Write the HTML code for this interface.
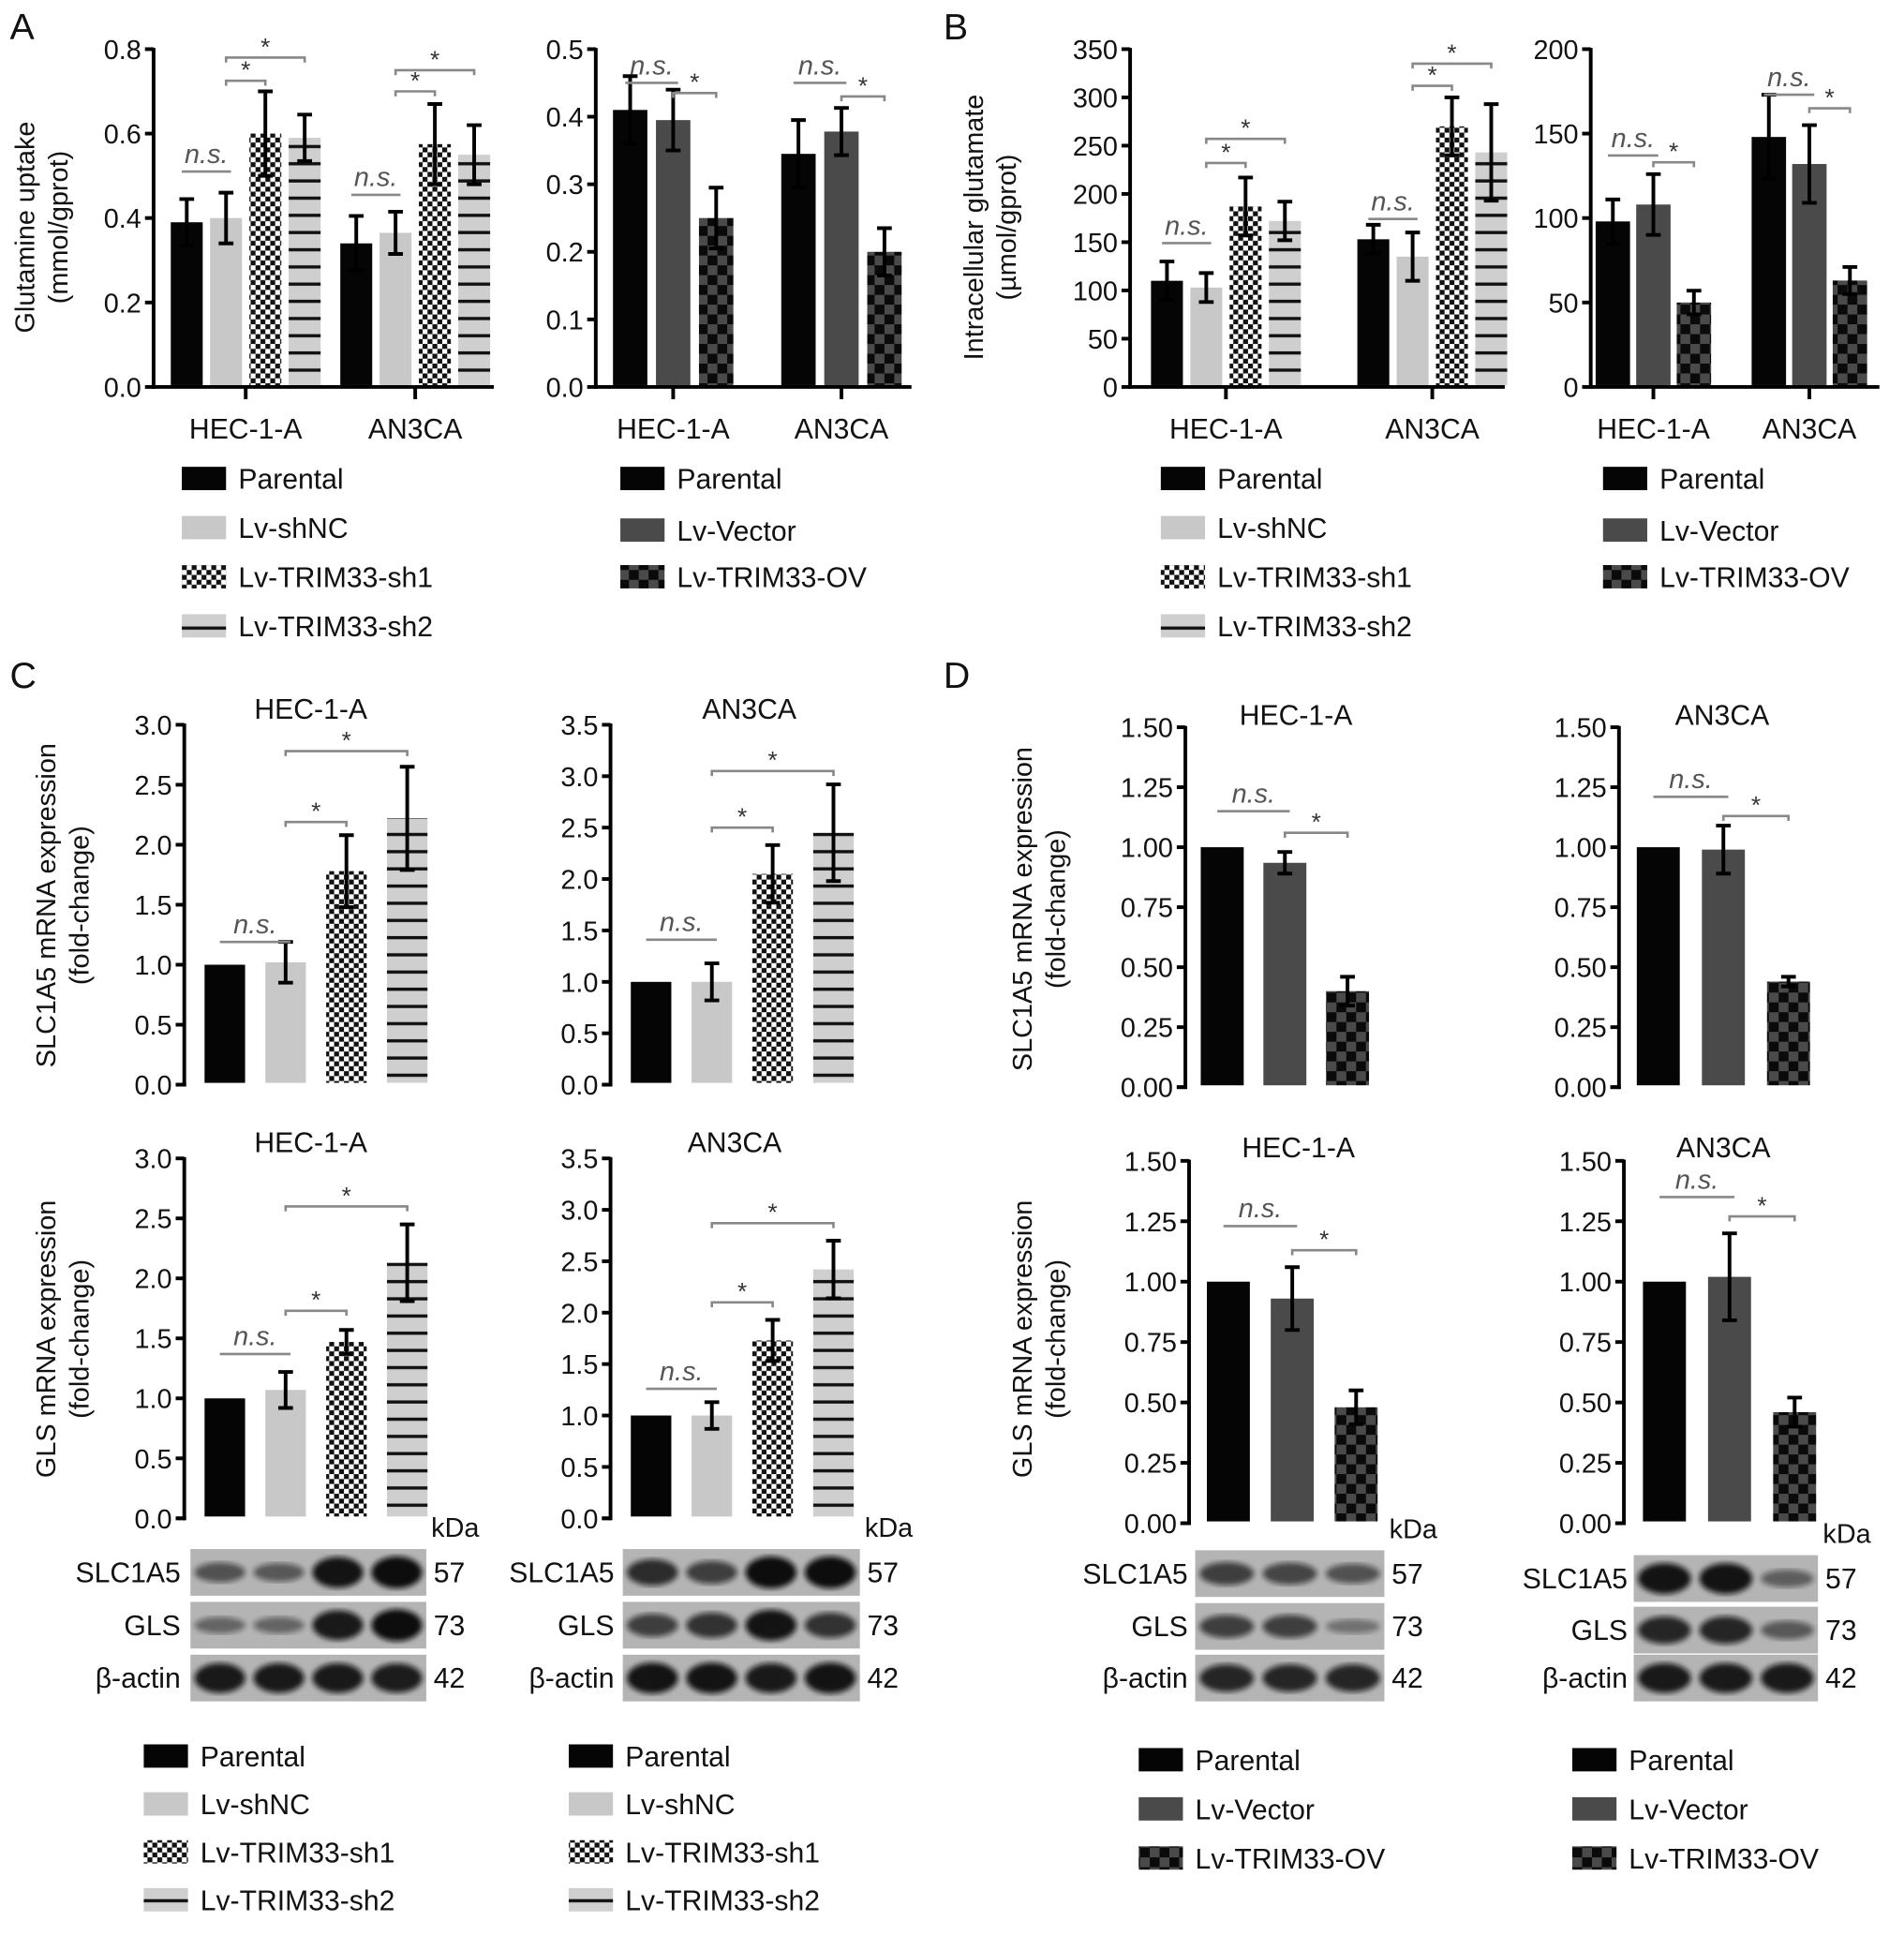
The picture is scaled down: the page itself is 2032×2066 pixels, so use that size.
<!DOCTYPE html>
<html><head><meta charset="utf-8">
<style>
html,body{margin:0;padding:0;background:#fff;}
svg{display:block;font-family:"Liberation Sans",sans-serif;}
</style></head>
<body>
<svg id="fig" xmlns="http://www.w3.org/2000/svg" width="2032" height="2066" viewBox="0 0 1550 1576">
<defs>
<pattern id="chk" width="8" height="8" patternUnits="userSpaceOnUse"><rect width="8" height="8" fill="#fff"/><rect width="4" height="4" fill="#111"/><rect x="4" y="4" width="4" height="4" fill="#111"/></pattern>
<pattern id="hl" width="12" height="14" patternUnits="userSpaceOnUse"><rect width="12" height="14" fill="#cfcfcf"/><rect y="6" width="12" height="2.6" fill="#111"/></pattern>
<pattern id="ov" width="16" height="16" patternUnits="userSpaceOnUse"><rect width="16" height="16" fill="#4a4a4a"/><rect width="8" height="8" fill="#0a0a0a"/><rect x="8" y="8" width="8" height="8" fill="#0a0a0a"/></pattern>
<filter id="blur"><feGaussianBlur stdDeviation="2.2"/></filter>
</defs>
</svg>
<script>
// ---------- DATA ----------
const aL_means=[0.39,0.40,0.60,0.59,0.34,0.365,0.575,0.55];
const aL_errs=[0.055,0.06,0.10,0.055,0.065,0.05,0.095,0.07];
const aR_means=[0.41,0.395,0.25,0.345,0.378,0.20];
const aR_errs=[0.05,0.045,0.045,0.05,0.035,0.035];
const bL_means=[110,103,187,172,153,135,270,243];
const bL_errs=[20,15,30,20,15,25,30,50];
const bR_means=[98,108,50,148,132,63];
const bR_errs=[13,18,7,25,23,8];
const c1_means=[1.0,1.02,1.78,2.22];const c1_errs=[0,0.17,0.3,0.43];
const c2_means=[1.0,1.0,2.05,2.45];const c2_errs=[0,0.18,0.28,0.47];
const c3_means=[1.0,1.07,1.47,2.13];const c3_errs=[0,0.15,0.1,0.32];
const c4_means=[1.0,1.0,1.73,2.42];const c4_errs=[0,0.13,0.2,0.28];
const d1_means=[1.0,0.935,0.40];const d1_errs=[0,0.045,0.06];
const d2_means=[1.0,0.99,0.44];const d2_errs=[0,0.1,0.02];
const d3_means=[1.0,0.93,0.48];const d3_errs=[0,0.13,0.07];
const d4_means=[1.0,1.02,0.46];const d4_errs=[0,0.18,0.06];
const groupCats=["HEC-1-A","AN3CA"];
const shLabels=["Parental","Lv-shNC","Lv-TRIM33-sh1","Lv-TRIM33-sh2"];
const ovLabels=["Parental","Lv-Vector","Lv-TRIM33-OV"];
// significance: [barA, barB, yValue, label]
const aL_sig=[[0,1,0.51,"n.s."],[1,2,0.725,"*"],[1,3,0.78,"*"],[4,5,0.455,"n.s."],[5,6,0.70,"*"],[5,7,0.75,"*"]];
const aR_sig=[[0,1,0.45,"n.s."],[1,2,0.435,"*"],[3,4,0.45,"n.s."],[4,5,0.43,"*"]];
const bL_sig=[[0,1,149,"n.s."],[1,2,232,"*"],[1,3,257,"*"],[4,5,174,"n.s."],[5,6,312,"*"],[5,7,335,"*"]];
const bR_sig=[[0,1,137,"n.s."],[1,2,133,"*"],[3,4,173,"n.s."],[4,5,165,"*"]];
const c1_sig=[[0,1,1.19,"n.s."],[1,2,2.19,"*"],[1,3,2.78,"*"]];
const c2_sig=[[0,1,1.41,"n.s."],[1,2,2.5,"*"],[1,3,3.05,"*"]];
const c3_sig=[[0,1,1.37,"n.s."],[1,2,1.73,"*"],[1,3,2.6,"*"]];
const c4_sig=[[0,1,1.26,"n.s."],[1,2,2.1,"*"],[1,3,2.87,"*"]];
const d1_sig=[[0,1,1.15,"n.s."],[1,2,1.06,"*"]];
const d2_sig=[[0,1,1.21,"n.s."],[1,2,1.13,"*"]];
const d3_sig=[[0,1,1.23,"n.s."],[1,2,1.13,"*"]];
const d4_sig=[[0,1,1.35,"n.s."],[1,2,1.27,"*"]];
// blot intensities (lanes)
const bc1=[[0.45,0.4,0.95,1.0],[0.3,0.3,0.9,1.0],[0.9,0.9,0.9,0.88]];
const bc2=[[0.75,0.6,1.0,1.0],[0.6,0.7,0.95,0.7],[0.95,0.95,0.9,0.95]];
const bd1=[[0.6,0.55,0.45],[0.6,0.6,0.2],[0.8,0.8,0.8]];
const bd2=[[0.95,0.95,0.35],[0.8,0.8,0.4],[0.9,0.9,0.9]];

// ---------- DRAW ----------
const NS="http://www.w3.org/2000/svg";
const svg=document.getElementById("fig");
function mk(tag,attrs,parent){const e=document.createElementNS(NS,tag);for(const k in attrs)e.setAttribute(k,attrs[k]);(parent||svg).appendChild(e);return e;}
function txt(s,x,y,size,parent,anchor,extra){const t=mk("text",Object.assign({x:x,y:y,"font-size":size,"text-anchor":anchor||"start",fill:"#111"},extra||{}),parent);t.textContent=s;return t;}

const shFills=["#050505","#c8c8c8","url(#chk)","url(#hl)"];
const ovFills=["#050505","#4a4a4a","url(#ov)"];

function chart(cfg){
  const g=mk("g",{});
  
  
  const yS=v=>cfg.yBot-v/cfg.ymax*(cfg.yBot-cfg.yTop);
  const cx=i=>cfg.first+i*cfg.step+Math.floor(i/cfg.nPer)*cfg.gap;
  const ax=mk("line",{x1:cfg.x0,y1:cfg.yTop-1,x2:cfg.x0,y2:cfg.yBot+1.5,stroke:"#000","stroke-width":3},g);
  
  
  for(let v=0;v<=cfg.ymax+1e-9;v+=cfg.tstep){
    const y=yS(v);
    mk("line",{x1:cfg.x0-7,y1:y,x2:cfg.x0,y2:y,stroke:"#000","stroke-width":3},g);
    const t=txt(v.toFixed(cfg.dec),cfg.x0-10,y+8,22,g,"end");
    
    
  }
  if(cfg.xaxis){
    const xa=mk("line",{x1:cfg.x0,y1:cfg.yBot,x2:cfg.x1,y2:cfg.yBot,stroke:"#000","stroke-width":3},g);
    
    
    const ng=cfg.means.length/cfg.nPer;
    for(let k=0;k<ng;k++){
      const mx=(cx(k*cfg.nPer)+cx(k*cfg.nPer+cfg.nPer-1))/2;
      mk("line",{x1:mx,y1:cfg.yBot,x2:mx,y2:cfg.yBot+10,stroke:"#000","stroke-width":3},g);
      const t=txt(groupCats[k],mx,cfg.yBot+42,23,g,"middle");
      
      
    }
  } else {
    mk("line",{x1:cfg.x0-7,y1:cfg.yBot,x2:cfg.x0+1.5,y2:cfg.yBot,stroke:"#000","stroke-width":3},g);
  }
  cfg.means.forEach((m,i)=>{
    const x=cx(i),y=yS(m);
    const r=mk("rect",{x:x-cfg.bw/2,y:y,width:cfg.bw,height:cfg.yBot-y-1.5,fill:cfg.fills[i%cfg.nPer]},g);
    
    
    const e=cfg.errs[i];
    if(e>0){
      const eb=mk("path",{d:`M${x},${yS(m-e)}V${yS(m+e)}M${x-6},${yS(m+e)}H${x+6}M${x-6},${yS(m-e)}H${x+6}`,stroke:"#000","stroke-width":3,fill:"none"},g);
      
      
    }
  });
  cfg.sig.forEach(s=>{
    const y=yS(s[2]);const ns=s[3]==="n.s.";
    const xa=cx(s[0])-(ns?4:0),xb=cx(s[1])+(ns?4:0);
    const l=mk("path",{d:ns?`M${xa},${y}H${xb}`:`M${xa},${y+4}V${y}H${xb}V${y+4}`,stroke:"#888","stroke-width":2,fill:"none"},g);
    
    
    const t=txt(s[3],(xa+xb)/2,ns?y-7:y-2,ns?22:20,g,"middle",{fill:ns?"#555":"#333","font-style":ns?"italic":"normal"});
    
    
  });
  if(cfg.title){
    const t=txt(cfg.title,cfg.tx,cfg.ty,23,g,"middle");
    
    
  }
  if(cfg.yl1){
    const t1=txt(cfg.yl1,0,0,22,g,"middle",{transform:`translate(${cfg.ylx},${cfg.ylcy}) rotate(-90)`});
    
    
    const t2=txt(cfg.yl2,0,0,22,g,"middle",{transform:`translate(${cfg.ylx+27},${cfg.ylcy}) rotate(-90)`});
    
    
  }
}

function legend(x,ys,labels,fills,name){
  const g=mk("g",{});
  
  
  labels.forEach((lb,i)=>{
    const r=mk("rect",{x:x,y:ys[i]-10,width:36,height:19,fill:fills[i]},g);
    
    
    const t=txt(lb,x+46,ys[i]+8,23,g);
    
    
  });
}

function blot(x0,x1,rowsY,labels,kda,ints,labelX,name){
  const g=mk("g",{});
  
  
  const k=txt("kDa",x1+4,rowsY[0]-10,22,g);
  
  
  rowsY.forEach((y,r)=>{
    const h=38;
    const bg=mk("rect",{x:x0,y:y,width:x1-x0,height:h,fill:"#b4b4b4"},g);
    
    
    const n=ints[r].length,lw=(x1-x0)/n;
    ints[r].forEach((v,i)=>{
      const b=mk("ellipse",{cx:x0+lw*(i+0.5),cy:y+h/2,rx:lw*0.43,ry:4+v*9,fill:"#111",opacity:0.25+v*0.75,filter:"url(#blur)"},g);
      
      
    });
    const t=txt(labels[r],labelX,y+h/2+8,23,g,"end");
    
    
    const m=txt(kda[r],x1+6,y+h/2+8,23,g);
    
    
  });
}

function letter(s,x,y){const t=txt(s,x,y,30,svg);}
letter("A",8,32);letter("B",768,32);letter("C",8,560);letter("D",768,560);

// Panel A
chart({name:"chart-a-knockdown",x0:125,x1:402,yTop:40,yBot:315,ymax:0.8,tstep:0.2,dec:1,means:aL_means,errs:aL_errs,fills:shFills,nPer:4,first:152,step:32,gap:10,bw:26,xaxis:true,sig:aL_sig,yl1:"Glutamine uptake",yl2:"(mmol/gprot)",ylx:28,ylcy:185});
chart({name:"chart-a-overexpression",x0:485,x1:742,yTop:40,yBot:315,ymax:0.5,tstep:0.1,dec:1,means:aR_means,errs:aR_errs,fills:ovFills,nPer:3,first:513,step:35,gap:32,bw:28,xaxis:true,sig:aR_sig});
legend(148,[390,430,470,510],shLabels,shFills,"legend-a-knockdown");
legend(505,[390,432,470],ovLabels,ovFills,"legend-a-overexpression");
// Panel B
chart({name:"chart-b-knockdown",x0:920,x1:1225,yTop:40,yBot:315,ymax:350,tstep:50,dec:0,means:bL_means,errs:bL_errs,fills:shFills,nPer:4,first:950,step:32,gap:40,bw:26,xaxis:true,sig:bL_sig,yl1:"Intracellular glutamate",yl2:"(µmol/gprot)",ylx:800,ylcy:185});
chart({name:"chart-b-overexpression",x0:1295,x1:1530,yTop:40,yBot:315,ymax:200,tstep:50,dec:0,means:bR_means,errs:bR_errs,fills:ovFills,nPer:3,first:1313,step:33,gap:28,bw:28,xaxis:true,sig:bR_sig});
legend(945,[390,430,470,510],shLabels,shFills,"legend-b-knockdown");
legend(1305,[390,432,470],ovLabels,ovFills,"legend-b-overexpression");
// Panel C
chart({name:"chart-c-slc1a5-hec1a",x0:150,yTop:590,yBot:883,ymax:3.0,tstep:0.5,dec:1,means:c1_means,errs:c1_errs,fills:shFills,nPer:4,first:183,step:49.5,gap:0,bw:33,sig:c1_sig,title:"HEC-1-A",tx:253,ty:585,yl1:"SLC1A5 mRNA expression",yl2:"(fold-change)",ylx:45,ylcy:737});
chart({name:"chart-c-slc1a5-an3ca",x0:497,yTop:590,yBot:883,ymax:3.5,tstep:0.5,dec:1,means:c2_means,errs:c2_errs,fills:shFills,nPer:4,first:530,step:49.5,gap:0,bw:33,sig:c2_sig,title:"AN3CA",tx:610,ty:585});
chart({name:"chart-c-gls-hec1a",x0:150,yTop:943,yBot:1236,ymax:3.0,tstep:0.5,dec:1,means:c3_means,errs:c3_errs,fills:shFills,nPer:4,first:183,step:49.5,gap:0,bw:33,sig:c3_sig,title:"HEC-1-A",tx:253,ty:938,yl1:"GLS mRNA expression",yl2:"(fold-change)",ylx:45,ylcy:1090});
chart({name:"chart-c-gls-an3ca",x0:497,yTop:943,yBot:1236,ymax:3.5,tstep:0.5,dec:1,means:c4_means,errs:c4_errs,fills:shFills,nPer:4,first:530,step:49.5,gap:0,bw:33,sig:c4_sig,title:"AN3CA",tx:598,ty:938});
blot(155,347,[1261,1304,1347],["SLC1A5","GLS","β-actin"],["57","73","42"],bc1,147,"blot-c-hec1a");
blot(507,700,[1261,1304,1347],["SLC1A5","GLS","β-actin"],["57","73","42"],bc2,500,"blot-c-an3ca");
legend(117,[1430,1469,1508,1547],shLabels,shFills,"legend-c-left");
legend(463,[1430,1469,1508,1547],shLabels,shFills,"legend-c-right");
// Panel D
chart({name:"chart-d-slc1a5-hec1a",x0:965,yTop:592,yBot:885,ymax:1.5,tstep:0.25,dec:2,means:d1_means,errs:d1_errs,fills:ovFills,nPer:3,first:995,step:51,gap:0,bw:35,sig:d1_sig,title:"HEC-1-A",tx:1055,ty:590,yl1:"SLC1A5 mRNA expression",yl2:"(fold-change)",ylx:840,ylcy:740});
chart({name:"chart-d-slc1a5-an3ca",x0:1318,yTop:592,yBot:885,ymax:1.5,tstep:0.25,dec:2,means:d2_means,errs:d2_errs,fills:ovFills,nPer:3,first:1350,step:53,gap:0,bw:35,sig:d2_sig,title:"AN3CA",tx:1402,ty:590});
chart({name:"chart-d-gls-hec1a",x0:968,yTop:945,yBot:1240,ymax:1.5,tstep:0.25,dec:2,means:d3_means,errs:d3_errs,fills:ovFills,nPer:3,first:1000,step:52,gap:0,bw:35,sig:d3_sig,title:"HEC-1-A",tx:1057,ty:942,yl1:"GLS mRNA expression",yl2:"(fold-change)",ylx:840,ylcy:1090});
chart({name:"chart-d-gls-an3ca",x0:1322,yTop:945,yBot:1240,ymax:1.5,tstep:0.25,dec:2,means:d4_means,errs:d4_errs,fills:ovFills,nPer:3,first:1355,step:53,gap:0,bw:35,sig:d4_sig,title:"AN3CA",tx:1403,ty:942});
blot(973,1127,[1262,1305,1347],["SLC1A5","GLS","β-actin"],["57","73","42"],bd1,967,"blot-d-hec1a");
blot(1330,1480,[1266,1308,1347],["SLC1A5","GLS","β-actin"],["57","73","42"],bd2,1325,"blot-d-an3ca");
legend(927,[1433,1473,1513],ovLabels,ovFills,"legend-d-left");
legend(1280,[1433,1473,1513],ovLabels,ovFills,"legend-d-right");
</script>
</body></html>
